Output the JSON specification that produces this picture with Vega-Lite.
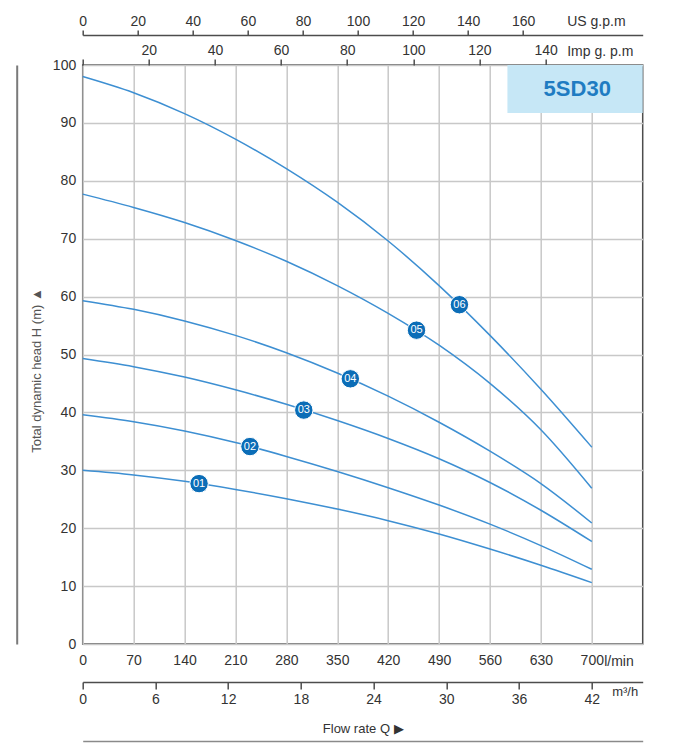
{
  "$schema": "https://vega.github.io/schema/vega-lite/v6.json",
  "width": 560,
  "height": 579,
  "autosize": {"type": "none"},
  "padding": {"left": 82.7, "top": 65, "right": 35.3, "bottom": 99},
  "background": "white",
  "config": {
    "view": {"stroke": "#4d4d4d", "strokeWidth": 1.5},
    "font": "Liberation Sans",
    "axis": {
      "labelFont": "Liberation Sans",
      "labelFontSize": 14,
      "labelColor": "#333333",
      "titleFont": "Liberation Sans",
      "titleFontWeight": "normal",
      "titleColor": "#333333",
      "titleFontSize": 14,
      "grid": false,
      "ticks": false,
      "domain": false,
      "domainColor": "#4d4d4d",
      "domainWidth": 1.5,
      "tickColor": "#4d4d4d",
      "tickWidth": 1.5,
      "labelFlush": false,
      "labelOverlap": false
    }
  },
  "datasets": {
    "curves": [
      {"c": "06", "q": 0, "h": 98.0}, {"c": "06", "q": 70, "h": 95.2}, {"c": "06", "q": 140, "h": 91.6}, {"c": "06", "q": 210, "h": 87.2}, {"c": "06", "q": 280, "h": 82.1}, {"c": "06", "q": 350, "h": 76.3}, {"c": "06", "q": 420, "h": 69.6}, {"c": "06", "q": 490, "h": 61.9}, {"c": "06", "q": 560, "h": 53.3}, {"c": "06", "q": 630, "h": 44.0}, {"c": "06", "q": 700, "h": 34.0},
      {"c": "05", "q": 0, "h": 77.7}, {"c": "05", "q": 70, "h": 75.4}, {"c": "05", "q": 140, "h": 72.8}, {"c": "05", "q": 210, "h": 69.7}, {"c": "05", "q": 280, "h": 66.1}, {"c": "05", "q": 350, "h": 61.9}, {"c": "05", "q": 420, "h": 57.1}, {"c": "05", "q": 490, "h": 51.6}, {"c": "05", "q": 560, "h": 45.0}, {"c": "05", "q": 630, "h": 37.0}, {"c": "05", "q": 700, "h": 26.9},
      {"c": "04", "q": 0, "h": 59.3}, {"c": "04", "q": 70, "h": 57.8}, {"c": "04", "q": 140, "h": 55.8}, {"c": "04", "q": 210, "h": 53.3}, {"c": "04", "q": 280, "h": 50.3}, {"c": "04", "q": 350, "h": 46.8}, {"c": "04", "q": 420, "h": 42.8}, {"c": "04", "q": 490, "h": 38.3}, {"c": "04", "q": 560, "h": 33.3}, {"c": "04", "q": 630, "h": 27.7}, {"c": "04", "q": 700, "h": 20.9},
      {"c": "03", "q": 0, "h": 49.3}, {"c": "03", "q": 70, "h": 47.9}, {"c": "03", "q": 140, "h": 46.1}, {"c": "03", "q": 210, "h": 43.9}, {"c": "03", "q": 280, "h": 41.4}, {"c": "03", "q": 350, "h": 38.6}, {"c": "03", "q": 420, "h": 35.5}, {"c": "03", "q": 490, "h": 32.0}, {"c": "03", "q": 560, "h": 27.9}, {"c": "03", "q": 630, "h": 23.1}, {"c": "03", "q": 700, "h": 17.7},
      {"c": "02", "q": 0, "h": 39.6}, {"c": "02", "q": 70, "h": 38.4}, {"c": "02", "q": 140, "h": 36.8}, {"c": "02", "q": 210, "h": 34.8}, {"c": "02", "q": 280, "h": 32.4}, {"c": "02", "q": 350, "h": 29.8}, {"c": "02", "q": 420, "h": 27.0}, {"c": "02", "q": 490, "h": 24.0}, {"c": "02", "q": 560, "h": 20.7}, {"c": "02", "q": 630, "h": 17.0}, {"c": "02", "q": 700, "h": 12.9},
      {"c": "01", "q": 0, "h": 30.0}, {"c": "01", "q": 70, "h": 29.2}, {"c": "01", "q": 140, "h": 28.1}, {"c": "01", "q": 210, "h": 26.7}, {"c": "01", "q": 280, "h": 25.1}, {"c": "01", "q": 350, "h": 23.3}, {"c": "01", "q": 420, "h": 21.3}, {"c": "01", "q": 490, "h": 19.0}, {"c": "01", "q": 560, "h": 16.4}, {"c": "01", "q": 630, "h": 13.6}, {"c": "01", "q": 700, "h": 10.6}
    ],
    "markers": [
      {"c": "01", "q": 160, "h": 27.7},
      {"c": "02", "q": 230, "h": 34.1},
      {"c": "03", "q": 304, "h": 40.4},
      {"c": "04", "q": 368, "h": 45.8},
      {"c": "05", "q": 459, "h": 54.2},
      {"c": "06", "q": 518, "h": 58.6}
    ],
    "badge": [
      {"label": "5SD30", "q_start": 584, "q_end": 770, "h_low": 91.7, "h_high": 100, "q_mid": 680, "h_mid": 95.9}
    ],
    "m3h": [{"v": 0}, {"v": 42}],
    "usgpm": [{"v": 0}, {"v": 160}],
    "impgpm": [{"v": 0}, {"v": 140}],
    "head": [{"v": 0}, {"v": 100}]
  },
  "layer": [
    {
      "layer": [
        {
          "data": {"name": "curves"},
          "mark": {"type": "line", "interpolate": "monotone", "color": "#3d8fd2", "strokeWidth": 1.5},
          "encoding": {
            "x": {
              "field": "q", "type": "quantitative",
              "scale": {"domain": [0, 770], "nice": false, "zero": false},
              "axis": {
                "orient": "bottom",
                "values": [0, 70, 140, 210, 280, 350, 420, 490, 560, 630, 700],
                "grid": true, "gridColor": "#c8c8c8", "gridWidth": 1.5,
                "labelPadding": 9,
                "title": "l/min",
                "titleX": 521, "titleY": 17, "titleAlign": "left", "titleBaseline": "middle", "titleFontSize": 14
              }
            },
            "y": {
              "field": "h", "type": "quantitative",
              "scale": {"domain": [0, 100], "nice": false, "zero": false},
              "axis": {
                "orient": "left",
                "values": [0, 10, 20, 30, 40, 50, 60, 70, 80, 90, 100],
                "grid": true, "gridColor": "#c8c8c8", "gridWidth": 1.5,
                "labelPadding": 7,
                "title": "Total dynamic head H (m) ▲",
                "titleX": -46, "titleY": 305, "titleAngle": -90, "titleAlign": "center", "titleBaseline": "middle",
                "titleFontSize": 13, "titleColor": "#555555"
              }
            },
            "detail": {"field": "c", "type": "nominal"}
          }
        },
        {
          "data": {"name": "badge"},
          "mark": {"type": "rect", "color": "#c6e7f6"},
          "encoding": {
            "x": {"field": "q_start", "type": "quantitative"},
            "x2": {"field": "q_end"},
            "y": {"field": "h_low", "type": "quantitative"},
            "y2": {"field": "h_high"}
          }
        },
        {
          "data": {"name": "badge"},
          "mark": {"type": "text", "font": "Liberation Sans", "fontWeight": "bold", "fontSize": 22, "color": "#1f7cc2", "align": "center", "baseline": "middle"},
          "encoding": {
            "x": {"field": "q_mid", "type": "quantitative"},
            "y": {"field": "h_mid", "type": "quantitative"},
            "text": {"field": "label"}
          }
        },
        {
          "data": {"name": "markers"},
          "mark": {"type": "point", "filled": true, "shape": "circle", "size": 340, "color": "#0b6db7", "opacity": 1, "stroke": "white", "strokeWidth": 1},
          "encoding": {
            "x": {"field": "q", "type": "quantitative"},
            "y": {"field": "h", "type": "quantitative"}
          }
        },
        {
          "data": {"name": "markers"},
          "mark": {"type": "text", "font": "Liberation Sans", "fontSize": 11, "color": "white", "align": "center", "baseline": "middle"},
          "encoding": {
            "x": {"field": "q", "type": "quantitative"},
            "y": {"field": "h", "type": "quantitative"},
            "text": {"field": "c"}
          }
        }
      ]
    },
    {
      "data": {"name": "m3h"},
      "mark": {"type": "point", "opacity": 0},
      "encoding": {
        "x": {
          "field": "v", "type": "quantitative",
          "scale": {"domain": [0, 46.2], "nice": false, "zero": false},
          "axis": {
            "orient": "bottom", "offset": 38,
            "values": [0, 6, 12, 18, 24, 30, 36, 42],
            "domain": true, "ticks": true, "tickSize": 7, "labelPadding": 3,
            "title": "m³/h",
            "titleX": 529, "titleY": 9, "titleAlign": "left", "titleBaseline": "middle", "titleFontSize": 13
          }
        }
      }
    },
    {
      "data": {"name": "m3h"},
      "mark": {"type": "point", "opacity": 0},
      "encoding": {
        "x": {
          "field": "v", "type": "quantitative",
          "scale": {"domain": [0, 46.2], "nice": false, "zero": false},
          "axis": {
            "orient": "bottom", "offset": 97,
            "values": [],
            "domain": true, "domainColor": "#8a8a8a", "domainWidth": 1.5, "labels": false, "ticks": false,
            "title": "Flow rate Q ▶",
            "titleY": -13, "titleBaseline": "middle", "titleFontSize": 13
          }
        }
      }
    },
    {
      "data": {"name": "usgpm"},
      "mark": {"type": "point", "opacity": 0},
      "encoding": {
        "x": {
          "field": "v", "type": "quantitative",
          "scale": {"domain": [0, 203.41], "nice": false, "zero": false},
          "axis": {
            "orient": "top", "offset": 30,
            "values": [0, 20, 40, 60, 80, 100, 120, 140, 160],
            "domain": true, "ticks": true, "tickSize": 5, "labelPadding": 2,
            "title": "US g.p.m",
            "titleX": 484, "titleY": -14, "titleAlign": "left", "titleBaseline": "middle", "titleFontSize": 14
          }
        }
      }
    },
    {
      "data": {"name": "impgpm"},
      "mark": {"type": "point", "opacity": 0},
      "encoding": {
        "x": {
          "field": "v", "type": "quantitative",
          "scale": {"domain": [0, 169.38], "nice": false, "zero": false},
          "axis": {
            "orient": "top", "offset": 0,
            "values": [0, 20, 40, 60, 80, 100, 120, 140],
            "labelExpr": "datum.value == 0 ? '' : datum.label",
            "domain": false, "ticks": true, "tickSize": 6, "labelPadding": 2,
            "title": "Imp g. p.m",
            "titleX": 484, "titleY": -14, "titleAlign": "left", "titleBaseline": "middle", "titleFontSize": 14
          }
        }
      }
    },
    {
      "data": {"name": "head"},
      "mark": {"type": "point", "opacity": 0},
      "encoding": {
        "y": {
          "field": "v", "type": "quantitative",
          "scale": {"domain": [0, 100], "nice": false, "zero": false},
          "axis": {
            "orient": "left", "offset": 66,
            "values": [],
            "domain": true, "domainColor": "#7a7a7a", "domainWidth": 2, "labels": false, "ticks": false,
            "title": null
          }
        }
      }
    }
  ],
  "resolve": {"scale": {"x": "independent", "y": "independent"}, "axis": {"x": "independent", "y": "independent"}}
}
